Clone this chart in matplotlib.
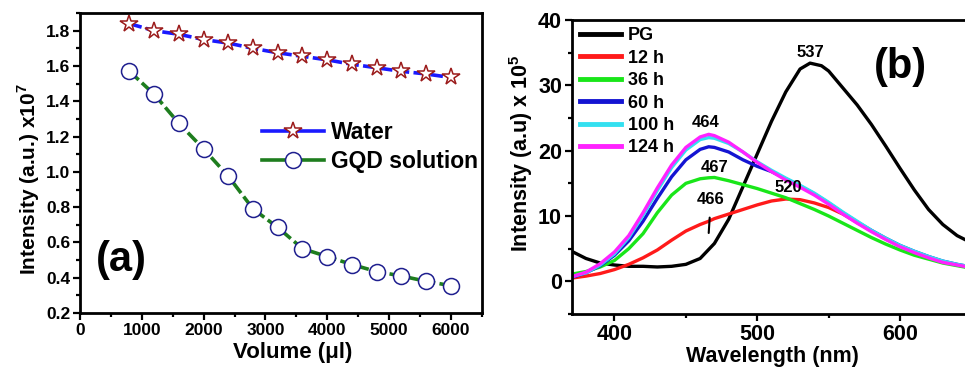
import matplotlib
matplotlib.use("Agg")
import matplotlib.pyplot as plt
from matplotlib.lines import Line2D
from matplotlib.ticker import MultipleLocator

plt.rcParams['font.family'] = ['Liberation Sans', 'DejaVu Sans']
plt.rcParams['font.weight'] = 'bold'
plt.rcParams['mathtext.fontset'] = 'custom'
plt.rcParams['mathtext.rm'] = 'Liberation Sans:bold'
plt.rcParams['mathtext.bf'] = 'Liberation Sans:bold'

# ---- panel (a): intensity vs added volume ----
volume = [800, 1200, 1600, 2000, 2400, 2800, 3200, 3600, 4000, 4400, 4800, 5200, 5600, 6000]
water = [1.84, 1.80, 1.78, 1.75, 1.73, 1.70, 1.675, 1.655, 1.635, 1.61, 1.59, 1.57, 1.555, 1.535]
gqd = [1.57, 1.44, 1.275, 1.13, 0.975, 0.79, 0.685, 0.565, 0.52, 0.475, 0.435, 0.41, 0.38, 0.355]

# ---- panel (b): PL spectra ----
wl_pg = [370, 380, 390, 400, 410, 420, 430, 440, 450, 460, 470, 480, 490, 500, 510, 520,
         530, 537, 545, 550, 560, 570, 580, 590, 600, 610, 620, 630, 640, 650, 660]
pg = [4.6, 3.5, 2.8, 2.5, 2.3, 2.3, 2.2, 2.3, 2.6, 3.5, 5.8, 9.5, 14.5, 19.5, 24.5, 29.0,
      32.5, 33.4, 33.0, 32.2, 29.6, 27.0, 24.0, 20.7, 17.3, 14.0, 11.0, 8.7, 7.0, 5.9, 5.0]

wl = [370, 380, 390, 400, 410, 420, 430, 440, 450, 460, 466, 470, 480, 490, 500, 510,
      520, 530, 540, 550, 560, 570, 580, 590, 600, 610, 620, 630, 640, 650, 660]
h12 = [0.5, 0.8, 1.2, 1.8, 2.6, 3.6, 4.8, 6.3, 7.7, 8.7, 9.2, 9.6, 10.3, 11.0, 11.7, 12.3,
       12.6, 12.5, 12.0, 11.3, 10.3, 9.0, 7.7, 6.5, 5.4, 4.5, 3.7, 3.0, 2.5, 2.1, 1.8]
h36 = [1.1, 1.5, 2.2, 3.2, 5.0, 7.3, 10.5, 13.2, 15.0, 15.7, 15.85, 15.9, 15.4, 14.8, 14.2, 13.5,
       12.8, 11.9, 11.0, 10.0, 8.9, 7.8, 6.7, 5.7, 4.8, 4.0, 3.4, 2.8, 2.4, 2.0, 1.7]
h60 = [0.6, 1.3, 2.4, 4.0, 6.2, 9.2, 12.7, 16.0, 18.6, 20.2, 20.6, 20.5, 19.8, 18.6, 17.6, 16.8,
       15.7, 14.6, 13.4, 12.0, 10.5, 9.1, 7.8, 6.6, 5.5, 4.6, 3.8, 3.1, 2.6, 2.2, 1.9]
h100 = [0.7, 1.3, 2.5, 4.2, 6.7, 10.1, 13.9, 17.4, 20.1, 21.7, 22.0, 21.9, 21.1, 19.8, 18.3, 17.0,
        15.8, 14.7, 13.5, 12.1, 10.6, 9.2, 7.8, 6.6, 5.5, 4.6, 3.8, 3.1, 2.6, 2.2, 1.9]
h124 = [0.7, 1.4, 2.7, 4.5, 7.0, 10.5, 14.3, 17.8, 20.5, 22.1, 22.5, 22.3, 21.3, 19.8, 18.2, 16.8,
        15.5, 14.4, 13.2, 11.8, 10.3, 8.9, 7.6, 6.4, 5.3, 4.4, 3.6, 2.9, 2.5, 2.1, 1.8]

spectra = [("12 h", h12, "#ff1a1a"), ("36 h", h36, "#19e619"), ("60 h", h60, "#1414d2"),
           ("100 h", h100, "#33e0f0"), ("124 h", h124, "#ff22ff")]

peak_labels = [("537", 537, 35.0), ("464", 464, 24.3), ("467", 470, 17.4), ("520", 522, 14.3)]


def style_axes(ax, width=2.0):
    for sp in ax.spines.values():
        sp.set_linewidth(width)
    ax.tick_params(which='both', direction='out', width=1.6, top=False, right=False)
    ax.tick_params(which='major', length=5)
    ax.tick_params(which='minor', length=3)


fig = plt.figure(figsize=(9.65, 3.74), dpi=100)

# panel (a)
ax1 = fig.add_axes([0.0829, 0.163, 0.4163, 0.802])
ax1.plot(volume, water, color='#1a1aff', lw=2.6, ls=(0, (3.5, 1.2)),
         marker='*', ms=13, mfc='white', mec='#9b1b1b', mew=1.1)
ax1.plot(volume, gqd, color='#1e7d1e', lw=2.6, ls=(0, (3.5, 1.2)),
         marker='o', ms=11.5, mfc='white', mec='#1f1f8f', mew=1.1)
ax1.set_xlim(0, 6500)
ax1.set_ylim(0.2, 1.9)
ax1.xaxis.set_major_locator(MultipleLocator(1000))
ax1.xaxis.set_minor_locator(MultipleLocator(500))
ax1.yaxis.set_minor_locator(MultipleLocator(0.1))
ax1.set_yticks([0.2, 0.4, 0.6, 0.8, 1.0, 1.2, 1.4, 1.6, 1.8])
style_axes(ax1)
ax1.tick_params(labelsize=12.5, pad=2)
ax1.set_xlabel("Volume (μl)", fontsize=16, fontweight='bold', labelpad=3)
ax1.set_ylabel(r"Intensity (a.u.) x10$^{7}$", fontsize=15, fontweight='bold', labelpad=3)
ax1.xaxis.label.set_x(0.53)
ax1.yaxis.label.set_y(0.445)
ax1.text(0.04, 0.14, "(a)", transform=ax1.transAxes, fontsize=30, fontweight='bold')
handles_a = [Line2D([], [], color='#1a1aff', lw=2.6, marker='*', ms=13, mfc='white',
                    mec='#9b1b1b', mew=1.1),
             Line2D([], [], color='#1e7d1e', lw=2.6, marker='o', ms=11.5, mfc='white',
                    mec='#1f1f8f', mew=1.1)]
ax1.legend(handles_a, ["Water", "GQD solution"], loc='upper left',
           bbox_to_anchor=(0.453, 0.64), frameon=False,
           handlelength=2.7, handletextpad=0.3, borderpad=0, borderaxespad=0,
           labelspacing=0.25, prop={'weight': 'bold', 'size': 16.5})

# panel (b)
ax2 = fig.add_axes([0.5924, 0.1604, 0.429, 0.7861])
ax2.plot(wl_pg, pg, color='black', lw=2.4, label="PG")
for name, vals, col in spectra:
    ax2.plot(wl, vals, color=col, lw=2.4, label=name)
ax2.set_xlim(370, 660)
ax2.set_ylim(-5, 40)
ax2.xaxis.set_major_locator(MultipleLocator(100))
ax2.xaxis.set_minor_locator(MultipleLocator(50))
ax2.yaxis.set_minor_locator(MultipleLocator(5))
ax2.set_yticks([0, 10, 20, 30, 40])
style_axes(ax2)
ax2.tick_params(labelsize=15.5, pad=2)
ax2.set_xlabel("Wavelength (nm)", fontsize=15.5, fontweight='bold', labelpad=1)
ax2.set_ylabel(r"Intensity (a.u) x 10$^{5}$", fontsize=15.5, fontweight='bold', labelpad=2)
ax2.xaxis.label.set_x(0.484)
ax2.yaxis.label.set_y(0.546)
for txt, x, y in peak_labels:
    ax2.text(x, y, txt, ha='center', va='center', fontsize=12, fontweight='bold')
ax2.annotate("466", xy=(466, 7.4), xytext=(467.5, 12.6), ha='center', va='center',
             fontsize=12, fontweight='bold',
             arrowprops=dict(arrowstyle='-', color='black', lw=1.5, shrinkA=6, shrinkB=0))
ax2.text(600, 32.8, "(b)", ha='center', va='center', fontsize=30, fontweight='bold')
ax2.legend(loc='upper left', bbox_to_anchor=(0.02, 0.975), frameon=False,
           handlelength=2.3, handletextpad=0.35, borderpad=0, borderaxespad=0,
           labelspacing=0.3, prop={'weight': 'bold', 'size': 13})
for line in ax2.get_legend().get_lines():
    line.set_linewidth(3.5)

fig.savefig("out.png", dpi=100)
